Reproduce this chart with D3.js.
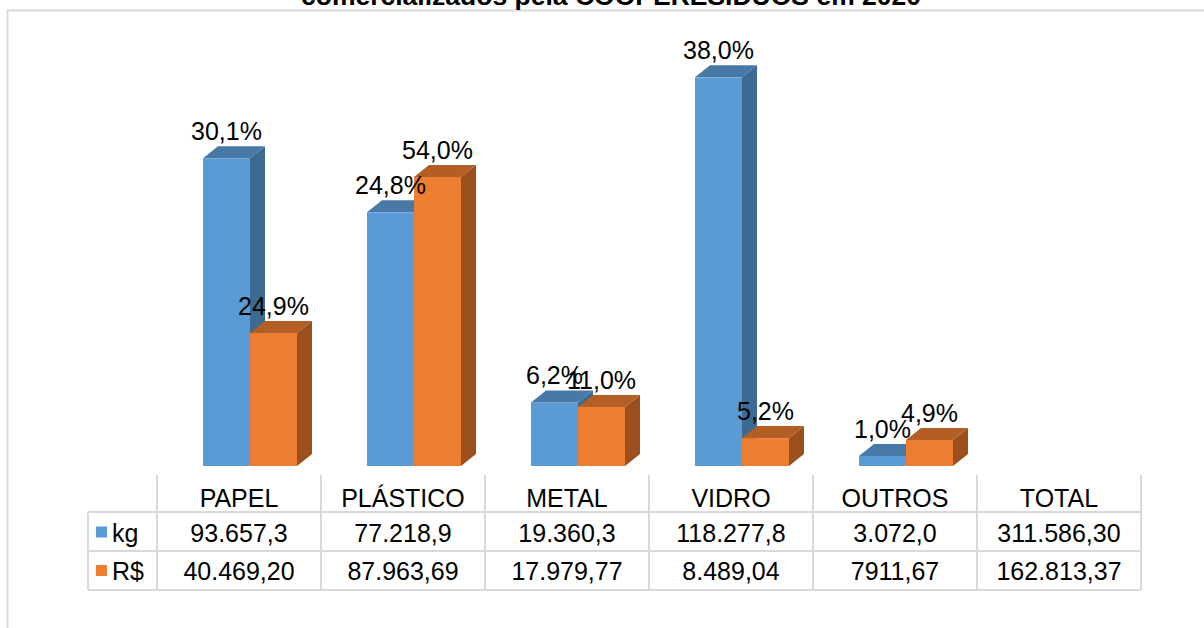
<!doctype html>
<html lang="pt">
<head>
<meta charset="UTF-8">
<title>COOPERESIDUOS 2020</title>
<style type="text/css">
body {
  font-family: 'Liberation Sans', Arial, sans-serif;
  margin: 0;
  padding: 0;
  background: #fff;
}
</style>
<script type="text/javascript" src="https://cdn.jsdelivr.net/npm/d3@7/dist/d3.min.js"></script>
</head>
<body>
<div id="chart"></div>
<script type="text/javascript">

var categories = ['PAPEL', 'PLÁSTICO', 'METAL', 'VIDRO', 'OUTROS'];
var columns = ['PAPEL', 'PLÁSTICO', 'METAL', 'VIDRO', 'OUTROS', 'TOTAL'];
var seriesNames = ['kg', 'R$'];
var kgValues = [93657.3, 77218.9, 19360.3, 118277.8, 3072.0];
var rsValues = [40469.20, 87963.69, 17979.77, 8489.04, 7911.67];
var kgPercent = ['30,1%', '24,8%', '6,2%', '38,0%', '1,0%'];
var rsPercent = ['24,9%', '54,0%', '11,0%', '5,2%', '4,9%'];
var kgRow = ['93.657,3', '77.218,9', '19.360,3', '118.277,8', '3.072,0', '311.586,30'];
var rsRow = ['40.469,20', '87.963,69', '17.979,77', '8.489,04', '7911,67', '162.813,37'];
var title = 'comercializados pela COOPERESIDUOS em 2020';

var W = 1204, H = 628;
var front = ['#5b9bd5', '#ed7d31'];
var side = ['#3d6a92', '#9b4f1f'];
var top_ = ['#4878a6', '#b35e25'];
var grid = '#d9d9d9';
var fs = '25px';

var svg = d3.select('#chart').append('svg')
  .attr('width', W).attr('height', H);

// outer frame
svg.append('path')
  .attr('d', 'M7.5,' + H + 'V10.5H' + W)
  .attr('fill', 'none').attr('stroke', grid).attr('stroke-width', 2);

svg.append('text')
  .attr('x', 611).attr('y', 5)
  .attr('text-anchor', 'middle')
  .style('font-size', '26.5px').style('font-weight', 'bold')
  .text(title);

var x = d3.scaleBand().domain(columns).range([157, 1141]);
var y = d3.scaleLinear().domain([0, 140000]).range([466, 6]);

var barW = 47, dx = 15, dy = 12;
var series = [kgValues, rsValues];
var labels = [kgPercent, rsPercent];

function barX(c, s) {
  return x(c) + x.bandwidth() / 2 - 36 + s * barW;
}

// kg bar first, R$ bar covers its side
categories.forEach(function(c, i) {
  [0, 1].forEach(function(s) {
    var x0 = barX(c, s), x1 = x0 + barW;
    var y0 = y(series[s][i]), yb = y(0);
    var g = svg.append('g');
    g.append('polygon')
      .attr('points', [[x1, y0], [x1 + dx, y0 - dy], [x1 + dx, yb - dy], [x1, yb]].join(' '))
      .attr('fill', side[s]);
    g.append('polygon')
      .attr('points', [[x0, y0], [x0 + dx, y0 - dy], [x1 + dx, y0 - dy], [x1, y0]].join(' '))
      .attr('fill', top_[s]);
    g.append('rect')
      .attr('x', x0).attr('y', y0)
      .attr('width', barW).attr('height', yb - y0)
      .attr('fill', front[s]);
  });
});

categories.forEach(function(c, i) {
  [0, 1].forEach(function(s) {
    svg.append('text')
      .attr('x', barX(c, s) + barW / 2)
      .attr('y', y(series[s][i]) - dy - 6)
      .attr('text-anchor', 'middle')
      .style('font-size', fs)
      .text(labels[s][i]);
  });
});

// data table
var rowLines = [512, 551, 590];
var tableLeft = 88, tableRight = 1141;
var t = svg.append('g').attr('stroke', grid).attr('stroke-width', 2);
rowLines.forEach(function(ry) {
  t.append('line').attr('x1', tableLeft).attr('x2', tableRight).attr('y1', ry).attr('y2', ry);
});
t.append('line').attr('x1', tableLeft).attr('x2', tableLeft).attr('y1', 512).attr('y2', 590);
columns.concat(['end']).forEach(function(c, i) {
  var vx = i < columns.length ? x(c) : tableRight;
  t.append('line').attr('x1', vx).attr('x2', vx).attr('y1', 475).attr('y2', 590);
});

svg.selectAll('text.head').data(columns).enter().append('text')
  .attr('class', 'head')
  .attr('x', function(d) { return x(d) + x.bandwidth() / 2; })
  .attr('y', 506.5)
  .attr('text-anchor', 'middle')
  .style('font-size', fs)
  .text(function(d) { return d; });

[kgRow, rsRow].forEach(function(row, r) {
  var by = 541.5 + r * 38.5;
  svg.selectAll('text.row' + r).data(row).enter().append('text')
    .attr('class', 'row' + r)
    .attr('x', function(d, i) { return x(columns[i]) + x.bandwidth() / 2; })
    .attr('y', by)
    .attr('text-anchor', 'middle')
    .style('font-size', fs)
    .text(function(d) { return d; });
  svg.append('rect')
    .attr('x', 96).attr('y', by - 15)
    .attr('width', 11).attr('height', 11)
    .attr('fill', front[r]);
  svg.append('text')
    .attr('x', 112).attr('y', by)
    .style('font-size', fs)
    .text(seriesNames[r]);
});

</script>
</body>
</html>
